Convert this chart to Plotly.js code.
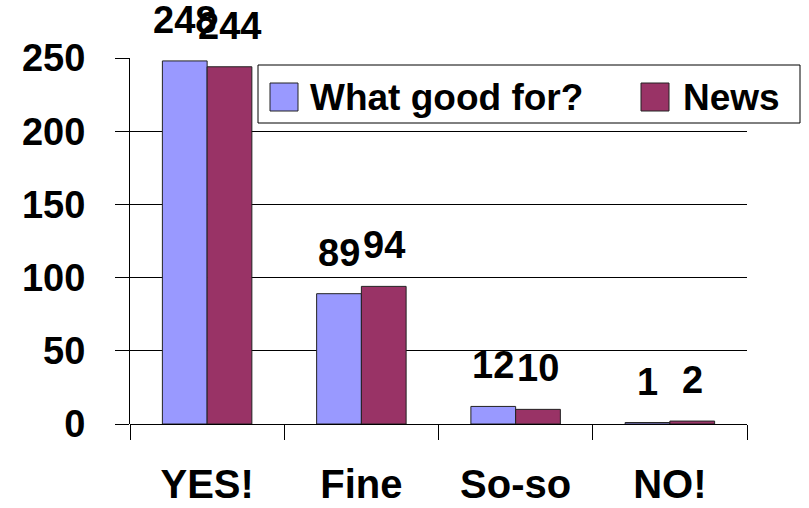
<!DOCTYPE html>
<html>
<head>
<meta charset="utf-8">
<script src="https://cdn.plot.ly/plotly-3.0.1.min.js"></script>
<style>html,body{margin:0;padding:0;background:#fff;}#chart{width:809px;height:508px;}</style>
</head>
<body>
<div id="chart"></div>
<script>
const categories = ["YES!", "Fine", "So-so", "NO!"];
const seriesNames = ["What good for?", "News"];
const whatGoodFor = [248, 89, 12, 1];
const news = [244, 94, 10, 2];
const yTicks = [0, 50, 100, 150, 200, 250];

const FONT = "Liberation Sans, Arial, sans-serif";
const colors = ["#9999FF", "#993366"];
const seriesValues = [whatGoodFor, news];
const bargap = 0.42;
const half = (1 - bargap) / 4;

const W = 809, H = 508;
const M = { l: 130, r: 62, t: 58, b: 84 };
const PW = W - M.l - M.r, PH = H - M.t - M.b;
const px = x => (x - M.l) / PW;      // pixel -> paper x
const py = y => (H - M.b - y) / PH;  // pixel -> paper y

const traces = seriesValues.map((vals, k) => ({
  type: "bar",
  name: seriesNames[k],
  x: categories,
  y: vals,
  marker: { color: colors[k], line: { color: "#222222", width: 1 } },
  showlegend: false,
  hoverinfo: "x+y+name"
}));

const annotations = [];
seriesValues.forEach((vals, k) => {
  vals.forEach((v, i) => {
    annotations.push({
      x: i + (k === 0 ? -half : half),
      y: v,
      xref: "x", yref: "y",
      text: String(v),
      showarrow: false,
      xanchor: "center", yanchor: "bottom",
      yshift: 18,
      font: { family: FONT, size: 38, color: "#000", weight: "bold" }
    });
  });
});

// Legend drawn as shapes + annotations (box, swatches, names)
const legendBox = { x0: 258, x1: 800, y0: 65, y1: 123 };
const swatchX = [270, 641];
const textX = [309, 682];
const swatchSize = 28, legendMidY = 97;
const shapes = [{
  type: "rect", xref: "paper", yref: "paper",
  x0: px(legendBox.x0), x1: px(legendBox.x1), y0: py(legendBox.y1), y1: py(legendBox.y0),
  fillcolor: "#fff", line: { color: "#000", width: 1 }, layer: "above"
}];
seriesNames.forEach((name, k) => {
  shapes.push({
    type: "rect", xref: "paper", yref: "paper",
    x0: px(swatchX[k]), x1: px(swatchX[k] + swatchSize),
    y0: py(legendMidY + swatchSize / 2), y1: py(legendMidY - swatchSize / 2),
    fillcolor: colors[k], line: { color: "#222222", width: 1 }, layer: "above"
  });
  annotations.push({
    xref: "paper", yref: "paper",
    x: px(textX[k]), y: py(legendMidY),
    xanchor: "left", yanchor: "middle",
    text: name, showarrow: false, borderpad: 0,
    font: { family: FONT, size: 37, color: "#000", weight: "bold" }
  });
});

const layout = {
  width: W, height: H,
  margin: M,
  paper_bgcolor: "#fff", plot_bgcolor: "#fff",
  barmode: "group",
  bargap: bargap,
  bargroupgap: 0,
  showlegend: false,
  xaxis: {
    type: "category",
    showline: false,
    ticks: "outside", ticklen: 15, tickwidth: 1, tickcolor: "#000",
    tickson: "boundaries",
    ticklabelstandoff: 33,
    tickfont: { family: FONT, size: 40, color: "#000", weight: "bold" },
    showgrid: false, zeroline: false,
    fixedrange: true
  },
  yaxis: {
    range: [0, 250],
    tickvals: yTicks,
    ticktext: yTicks.map(String),
    showline: true, linecolor: "#000", linewidth: 1,
    ticks: "outside", ticklen: 14, tickwidth: 1, tickcolor: "#000",
    ticklabelstandoff: 22,
    tickfont: { family: FONT, size: 38, color: "#000", weight: "bold" },
    showgrid: true, gridcolor: "#000", gridwidth: 1,
    zeroline: true, zerolinecolor: "#000", zerolinewidth: 1,
    fixedrange: true
  },
  shapes: shapes,
  annotations: annotations
};

Plotly.newPlot("chart", traces, layout, { displayModeBar: false, staticPlot: true });
</script>
</body>
</html>
